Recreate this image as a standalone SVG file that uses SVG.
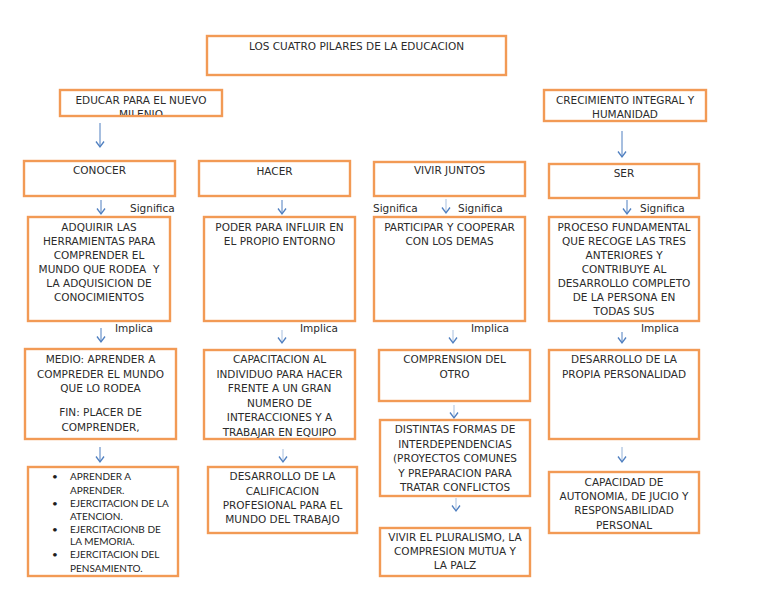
<svg xmlns="http://www.w3.org/2000/svg" width="768" height="594" viewBox="0 0 768 594">
<style>
.box{fill:#fff;stroke:#F29A55;stroke-width:2.4}
.t{font-family:"DejaVu Sans",sans-serif;font-size:10.5px;fill:#2b2b2b;text-anchor:middle}
.l{font-family:"DejaVu Sans",sans-serif;font-size:10.5px;fill:#2b2b2b}
.b{font-family:Lato,"DejaVu Sans",sans-serif;font-size:10px;fill:#1e1e1e}
.c{stroke:#4F7FC0;stroke-width:1;fill:none;marker-end:url(#ah)}
</style>
<defs>
<marker id="ah" markerUnits="userSpaceOnUse" markerWidth="10" markerHeight="12" refX="8" refY="6" orient="auto" viewBox="0 0 10 12">
<path d="M2.5,2 L8,6 L2.5,10" fill="none" stroke="#4F7FC0" stroke-width="1.3"/>
</marker>
<clipPath id="clipEdu"><rect x="61" y="91" width="160" height="24"/></clipPath>
</defs>
<rect width="768" height="594" fill="#fff"/>

<g id="connectors">
<line class="c" x1="100" y1="123" x2="100" y2="147"/>
<line class="c" x1="622" y1="131" x2="622" y2="157"/>
<line class="c" x1="101" y1="200" x2="101" y2="214"/>
<line class="c" x1="282" y1="200" x2="282" y2="214"/>
<line class="c" x1="446" y1="199" x2="446" y2="213" stroke-opacity="0.5"/>
<line class="c" x1="627" y1="200" x2="627" y2="214"/>
<line class="c" x1="101" y1="328" x2="101" y2="342"/>
<line class="c" x1="282" y1="330" x2="282" y2="343" stroke-opacity="0.5"/>
<line class="c" x1="453" y1="330" x2="453" y2="343" stroke-opacity="0.5"/>
<line class="c" x1="622" y1="332" x2="622" y2="343"/>
<line class="c" x1="100" y1="447" x2="100" y2="462"/>
<line class="c" x1="283" y1="449" x2="283" y2="462" stroke-opacity="0.5"/>
<line class="c" x1="454" y1="405" x2="454" y2="418" stroke-opacity="0.5"/>
<line class="c" x1="456" y1="498" x2="456" y2="511" stroke-opacity="0.5"/>
<line class="c" x1="622" y1="447" x2="622" y2="462" stroke-opacity="0.6"/>
<text class="l" x="130" y="211.5">Significa</text>
<text class="l" x="373" y="211.5">Significa</text>
<text class="l" x="458" y="211.5">Significa</text>
<text class="l" x="640" y="211.5">Significa</text>
<text class="l" x="115" y="332">Implica</text>
<text class="l" x="300" y="332">Implica</text>
<text class="l" x="471" y="332">Implica</text>
<text class="l" x="641" y="332">Implica</text>
</g>

<g id="titulo">
<rect class="box" x="207" y="36" width="299" height="39"/>
<text class="t" x="356.5" y="50">LOS CUATRO PILARES DE LA EDUCACION</text>
</g>
<g id="educar">
<rect class="box" x="60" y="90" width="162" height="26"/>
<g clip-path="url(#clipEdu)">
<text class="t" x="141" y="104">EDUCAR PARA EL NUEVO</text>
<text class="t" x="141" y="118">MILENIO</text>
</g>
</g>
<g id="crecimiento">
<rect class="box" x="544" y="90" width="162" height="31"/>
<text class="t" x="625" y="104">CRECIMIENTO INTEGRAL Y</text>
<text class="t" x="625" y="118">HUMANIDAD</text>
</g>

<g id="conocer">
<rect class="box" x="24" y="161" width="151" height="35"/>
<text class="t" x="99.5" y="174">CONOCER</text>
</g>
<g id="hacer">
<rect class="box" x="199" y="161" width="151" height="35"/>
<text class="t" x="274.5" y="175">HACER</text>
</g>
<g id="vivir">
<rect class="box" x="374" y="162" width="151" height="34"/>
<text class="t" x="449.5" y="174">VIVIR JUNTOS</text>
</g>
<g id="ser">
<rect class="box" x="549" y="164" width="150" height="34"/>
<text class="t" x="624" y="177">SER</text>
</g>

<g id="adquirir">
<rect class="box" x="28" y="217" width="142" height="104"/>
<text class="t" x="99" y="231">ADQUIRIR LAS</text>
<text class="t" x="99" y="245">HERRAMIENTAS PARA</text>
<text class="t" x="99" y="259">COMPRENDER EL</text>
<text class="t" x="99" y="273">MUNDO QUE RODEA&#160; Y</text>
<text class="t" x="99" y="287">LA ADQUISICION DE</text>
<text class="t" x="99" y="301">CONOCIMIENTOS</text>
</g>
<g id="poder">
<rect class="box" x="204" y="217" width="151" height="104"/>
<text class="t" x="279.5" y="231">PODER PARA INFLUIR EN</text>
<text class="t" x="279.5" y="245">EL PROPIO ENTORNO</text>
</g>
<g id="participar">
<rect class="box" x="374" y="217" width="151" height="104"/>
<text class="t" x="449.5" y="231">PARTICIPAR Y COOPERAR</text>
<text class="t" x="449.5" y="245">CON LOS DEMAS</text>
</g>
<g id="proceso">
<rect class="box" x="549" y="217" width="150" height="104"/>
<text class="t" x="624" y="231">PROCESO FUNDAMENTAL</text>
<text class="t" x="624" y="245">QUE RECOGE LAS TRES</text>
<text class="t" x="624" y="259">ANTERIORES Y</text>
<text class="t" x="624" y="273">CONTRIBUYE AL</text>
<text class="t" x="624" y="287">DESARROLLO COMPLETO</text>
<text class="t" x="624" y="301">DE LA PERSONA EN</text>
<text class="t" x="624" y="315">TODAS SUS</text>
</g>

<g id="medio">
<rect class="box" x="25" y="349" width="151" height="90"/>
<text class="t" x="100.5" y="363">MEDIO: APRENDER A</text>
<text class="t" x="100.5" y="377.5">COMPREDER EL MUNDO</text>
<text class="t" x="100.5" y="392">QUE LO RODEA</text>
<text class="t" x="100.5" y="415.5">FIN: PLACER DE</text>
<text class="t" x="100.5" y="430.5">COMPRENDER,</text>
</g>
<g id="capacitacion">
<rect class="box" x="204" y="350" width="151" height="89"/>
<text class="t" x="279.5" y="363">CAPACITACION AL</text>
<text class="t" x="279.5" y="377.5">INDIVIDUO PARA HACER</text>
<text class="t" x="279.5" y="392">FRENTE A UN GRAN</text>
<text class="t" x="279.5" y="406.5">NUMERO DE</text>
<text class="t" x="279.5" y="421">INTERACCIONES Y A</text>
<text class="t" x="279.5" y="435.5">TRABAJAR EN EQUIPO</text>
</g>
<g id="comprension">
<rect class="box" x="379" y="350" width="151" height="51"/>
<text class="t" x="454.5" y="363">COMPRENSION DEL</text>
<text class="t" x="454.5" y="377.5">OTRO</text>
</g>
<g id="desarrollo-personalidad">
<rect class="box" x="549" y="350" width="150" height="89"/>
<text class="t" x="624" y="363">DESARROLLO DE LA</text>
<text class="t" x="624" y="377.5">PROPIA PERSONALIDAD</text>
</g>

<g id="aprender">
<rect class="box" x="28" y="467" width="150" height="109"/>
<text class="b" x="52" y="480">•</text>
<text class="b" x="70" y="480">APRENDER A</text>
<text class="b" x="70" y="494">APRENDER.</text>
<text class="b" x="52" y="507">•</text>
<text class="b" x="70" y="507">EJERCITACION DE LA</text>
<text class="b" x="70" y="520">ATENCION.</text>
<text class="b" x="52" y="532.5">•</text>
<text class="b" x="70" y="532.5">EJERCITACIONB DE</text>
<text class="b" x="70" y="545">LA MEMORIA.</text>
<text class="b" x="52" y="558">•</text>
<text class="b" x="70" y="558">EJERCITACION DEL</text>
<text class="b" x="70" y="572">PENSAMIENTO.</text>
</g>
<g id="calificacion">
<rect class="box" x="208" y="467" width="149" height="66"/>
<text class="t" x="282.5" y="480">DESARROLLO DE LA</text>
<text class="t" x="282.5" y="494.5">CALIFICACION</text>
<text class="t" x="282.5" y="509">PROFESIONAL PARA EL</text>
<text class="t" x="282.5" y="523">MUNDO DEL TRABAJO</text>
</g>
<g id="distintas">
<rect class="box" x="380" y="420" width="150" height="76"/>
<text class="t" x="455" y="433">DISTINTAS FORMAS DE</text>
<text class="t" x="455" y="447.5">INTERDEPENDENCIAS</text>
<text class="t" x="455" y="462">(PROYECTOS COMUNES</text>
<text class="t" x="455" y="476.5">Y PREPARACION PARA</text>
<text class="t" x="455" y="490.5">TRATAR CONFLICTOS</text>
</g>
<g id="pluralismo">
<rect class="box" x="380" y="528" width="150" height="48"/>
<text class="t" x="455" y="540.5">VIVIR EL PLURALISMO, LA</text>
<text class="t" x="455" y="555">COMPRESION MUTUA Y</text>
<text class="t" x="455" y="569">LA PALZ</text>
</g>
<g id="capacidad">
<rect class="box" x="549" y="472" width="150" height="61"/>
<text class="t" x="624" y="485.5">CAPACIDAD DE</text>
<text class="t" x="624" y="500">AUTONOMIA, DE JUCIO Y</text>
<text class="t" x="624" y="514">RESPONSABILIDAD</text>
<text class="t" x="624" y="528.5">PERSONAL</text>
</g>
</svg>
